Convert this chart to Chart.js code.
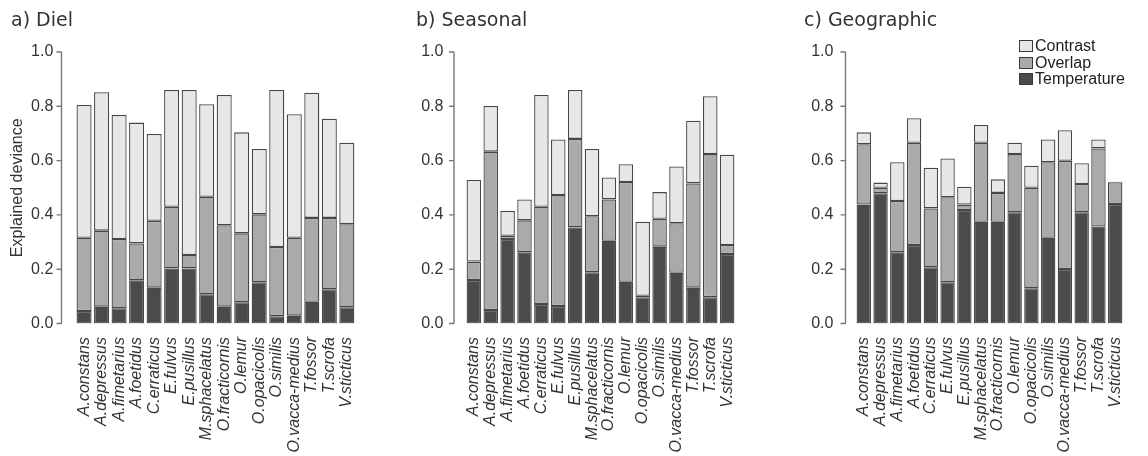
<!DOCTYPE html>
<html><head><meta charset="utf-8">
<script src="https://cdn.jsdelivr.net/npm/chart.js@4"></script>
<style>
html,body{margin:0;padding:0;background:#fff;width:1148px;height:456px;overflow:hidden;}
.panel{position:absolute;top:0;height:456px;}
.ptitle{position:absolute;top:10px;font-family:"DejaVu Sans",sans-serif;font-size:19px;line-height:19px;color:#333;white-space:nowrap;}
#legend{position:absolute;left:1019px;top:38px;font-family:"Liberation Sans",Arial,sans-serif;font-size:16px;color:#222;}
.lg{height:16.5px;line-height:16.5px;display:flex;align-items:center;white-space:nowrap;}
.sw{width:12px;height:10px;border:1px solid #3a3a3a;margin-right:2px;box-sizing:content-box;}
</style></head><body>
<div class="panel" style="left:0;width:380px"><canvas id="c0" width="380" height="456"></canvas></div>
<div class="panel" style="left:380px;width:380px"><canvas id="c1" width="380" height="456"></canvas></div>
<div class="panel" style="left:760px;width:388px"><canvas id="c2" width="388" height="456"></canvas></div>
<div class="ptitle" style="left:11px">a) Diel</div>
<div class="ptitle" style="left:416px">b) Seasonal</div>
<div class="ptitle" style="left:804px">c) Geographic</div>
<div id="legend"></div>
<script>
const species = ['A.constans','A.depressus','A.fimetarius','A.foetidus','C.erraticus','E.fulvus','E.pusillus','M.sphacelatus','O.fracticornis','O.lemur','O.opacicolis','O.similis','O.vacca-medius','T.fossor','T.scrofa','V.sticticus'];
const yTicks = [0, 0.2, 0.4, 0.6, 0.8, 1.0];
const yTitle = 'Explained deviance';
const seriesNames = ['Temperature','Overlap','Contrast'];

// Diel
const dielTemperature = [0.046,0.062,0.056,0.159,0.132,0.203,0.203,0.108,0.062,0.078,0.152,0.027,0.029,0.080,0.126,0.060];
const dielOverlap     = [0.270,0.280,0.255,0.136,0.246,0.227,0.049,0.359,0.300,0.254,0.250,0.255,0.287,0.309,0.263,0.306];
const dielContrast    = [0.489,0.510,0.457,0.445,0.320,0.430,0.608,0.341,0.480,0.372,0.241,0.578,0.455,0.461,0.365,0.300];
// Seasonal
const seasTemperature = [0.160,0.050,0.311,0.262,0.072,0.064,0.354,0.189,0.305,0.154,0.097,0.283,0.187,0.132,0.097,0.256];
const seasOverlap     = [0.068,0.583,0.012,0.118,0.358,0.409,0.326,0.206,0.152,0.367,0.005,0.103,0.182,0.384,0.527,0.033];
const seasContrast    = [0.301,0.168,0.092,0.077,0.412,0.205,0.180,0.248,0.081,0.066,0.273,0.098,0.209,0.231,0.213,0.333];
// Geographic
const geoTemperature  = [0.438,0.480,0.262,0.289,0.207,0.152,0.418,0.375,0.375,0.410,0.130,0.316,0.201,0.410,0.357,0.440];
const geoOverlap      = [0.222,0.020,0.189,0.377,0.217,0.313,0.020,0.291,0.106,0.214,0.370,0.278,0.398,0.104,0.288,0.080];
const geoContrast     = [0.044,0.019,0.143,0.090,0.150,0.143,0.066,0.065,0.050,0.042,0.081,0.084,0.113,0.076,0.033,0.002];

const fills = {Temperature:'#4b4b4b', Overlap:'#aaaaaa', Contrast:'#e7e7e7'};
const FONT = '"Liberation Sans", Arial, sans-serif';

const axisLinePlugin = {
  id: 'axisLine',
  afterDraw(chart, args, opts) {
    const y = chart.scales.y, ctx = chart.ctx, x = opts.x;
    ctx.save();
    ctx.strokeStyle = '#777';
    ctx.lineWidth = 1.4;
    ctx.beginPath();
    ctx.moveTo(x, y.getPixelForValue(y.min));
    ctx.lineTo(x, y.getPixelForValue(y.max));
    y.ticks.forEach(t => {
      const py = y.getPixelForValue(t.value);
      ctx.moveTo(x - 5, py); ctx.lineTo(x, py);
    });
    ctx.stroke();
    ctx.restore();
  }
};

function makeChart(id, temp, over, cont, yWidth, padRight, axisX, showTitle) {
  const sets = [[seriesNames[0], temp], [seriesNames[1], over], [seriesNames[2], cont]];
  return new Chart(document.getElementById(id), {
    type: 'bar',
    data: {
      labels: species,
      datasets: sets.map(([name, vals]) => ({
        label: name, data: vals, stack: 's',
        backgroundColor: fills[name], borderColor: '#474747', borderWidth: 1.3,
        borderSkipped: false, barPercentage: 0.86, categoryPercentage: 1.0
      }))
    },
    options: {
      responsive: false, animation: false, devicePixelRatio: 1,
      layout: { padding: { top: 52, right: padRight, bottom: 0, left: 0 } },
      plugins: { legend: { display: false }, tooltip: { enabled: false }, axisLine: { x: axisX } },
      scales: {
        x: {
          stacked: true,
          grid: { display: false, drawTicks: false }, border: { display: false },
          ticks: { autoSkip: false, maxRotation: 90, minRotation: 90, padding: 13.5, color: '#333',
                   font: { family: FONT, size: 16, style: 'italic' } },
          afterFit: s => { s.height = 132.5; }
        },
        y: {
          stacked: true, min: 0, max: 1,
          grid: { display: false, drawTicks: false }, border: { display: false },
          afterBuildTicks: s => { s.ticks = yTicks.map(v => ({ value: v })); },
          ticks: { padding: 22, color: '#333', font: { family: FONT, size: 16 },
                   callback: v => Number(v).toFixed(1) },
          title: { display: showTitle, text: yTitle, color: '#333', font: { family: FONT, size: 16 },
                   padding: { top: 8.4, bottom: 0 } },
          afterFit: s => { s.width = yWidth; }
        }
      }
    },
    plugins: [axisLinePlugin]
  });
}

makeChart('c0', dielTemperature, dielOverlap, dielContrast, 75.3, 15, 61.5, true);
makeChart('c1', seasTemperature, seasOverlap, seasContrast, 85.4, 5, 74, false);
makeChart('c2', geoTemperature, geoOverlap, geoContrast, 95.4, 3, 85.5, false);

const lg = document.getElementById('legend');
seriesNames.slice().reverse().forEach(n => {
  const row = document.createElement('div'); row.className = 'lg';
  const sw = document.createElement('span'); sw.className = 'sw'; sw.style.background = fills[n];
  const tx = document.createElement('span'); tx.textContent = n;
  row.appendChild(sw); row.appendChild(tx); lg.appendChild(row);
});
</script>
</body></html>
